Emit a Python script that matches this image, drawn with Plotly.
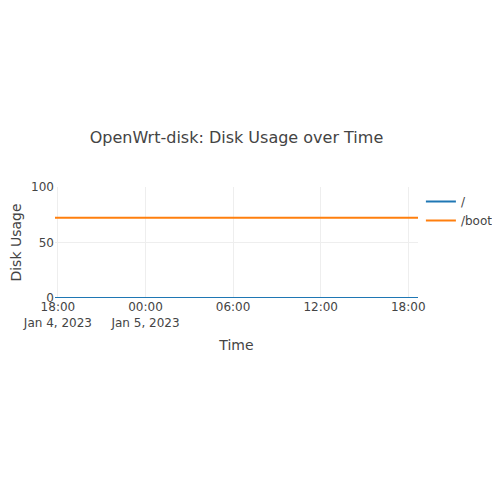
import plotly.graph_objects as go
import pandas as pd

times = pd.date_range("2023-01-04 17:48", "2023-01-05 18:40", periods=26)
root_usage = [0.0] * 26
boot_usage = [72.4] * 26
series_names = ["/", "/boot"]

fig = go.Figure()
fig.add_trace(go.Scatter(x=times, y=root_usage, mode="lines", name=series_names[0],
                         line=dict(color="#1f77b4")))
fig.add_trace(go.Scatter(x=times, y=boot_usage, mode="lines", name=series_names[1],
                         line=dict(color="#ff7f0e")))

fig.update_layout(
    template="none",
    width=506, height=500,
    font=dict(family="DejaVu Sans, Verdana, sans-serif", size=12, color="#444"),
    margin=dict(l=47, r=96, t=179, b=210),
    title=dict(text="OpenWrt-disk: Disk Usage over Time", x=0.5, xref="paper", xanchor="center",
               y=1 - 129 / 500, yanchor="middle", yref="container", font=dict(size=16)),
    legend=dict(x=1.008, y=1, yanchor="top"),
    xaxis=dict(title=dict(text="Time"), gridcolor="#eee", zeroline=False),
    yaxis=dict(title=dict(text="Disk Usage"), range=[0, 100], tickvals=[0, 50, 100],
               gridcolor="#eee", zeroline=False),
)

fig.write_html("out.html")
